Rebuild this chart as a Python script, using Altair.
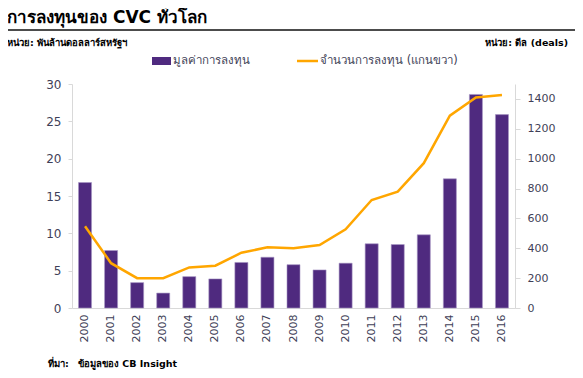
import altair as alt
import pandas as pd

years = ["2000", "2001", "2002", "2003", "2004", "2005", "2006", "2007", "2008",
         "2009", "2010", "2011", "2012", "2013", "2014", "2015", "2016"]
invest = [16.8, 7.7, 3.4, 2.0, 4.2, 3.9, 6.1, 6.8, 5.8, 5.1, 6.0, 8.6, 8.5, 9.8, 17.3, 28.6, 25.9]
deals = [548, 300, 200, 200, 272, 283, 370, 406, 400, 422, 527, 723, 779, 970, 1288, 1410, 1427]

title_text = "การลงทุนของ CVC ทั่วโลก"
unit_left = "หน่วย: พันล้านดอลลาร์สหรัฐฯ"
unit_right = "หน่วย: ดีล (deals)"
legend_bar = "มูลค่าการลงทุน"
legend_line = "จำนวนการลงทุน (แกนขวา)"
source_label = "ที่มา:"
source_text = "ข้อมูลของ CB Insight"

df = pd.DataFrame({"year": years, "invest": invest, "deals": deals})

FONT = "DejaVu Sans"
LBL = "#3f3f58"
AXC = "#d9d9d9"
PURPLE = "#4f2a7f"
ORANGE = "#ffa600"

x_enc = alt.X("year:N", sort=years,
              scale=alt.Scale(paddingInner=0.5, paddingOuter=0.25),
              axis=alt.Axis(title=None, labelAngle=-90, ticks=False, labelPadding=6,
                            domainColor=AXC, labelColor=LBL, labelFontSize=11,
                            labelFont=FONT))

bars = alt.Chart(df).mark_bar(color=PURPLE, stroke="#a897c4", strokeWidth=0.6).encode(
    x=x_enc,
    y=alt.Y("invest:Q", scale=alt.Scale(domain=[0, 30]),
            axis=alt.Axis(title=None, values=[0, 5, 10, 15, 20, 25, 30], grid=False,
                          domainColor=AXC, tickColor=AXC, tickSize=4, labelPadding=7,
                          labelColor=LBL, labelFontSize=12, labelFont=FONT))
)

line = alt.Chart(df).mark_line(color=ORANGE, strokeWidth=2.5).encode(
    x=alt.X("year:N", sort=years),
    y=alt.Y("deals:Q", scale=alt.Scale(domain=[0, 1500]),
            axis=alt.Axis(title=None, orient="right", format="d",
                          values=[0, 200, 400, 600, 800, 1000, 1200, 1400], grid=False,
                          domainColor=AXC, tickColor=AXC, tickSize=5, labelPadding=7,
                          labelColor=LBL, labelFontSize=11, labelFont=FONT))
)

main = alt.layer(bars, line).resolve_scale(y="independent")

one = pd.DataFrame({"a": [0]})


def txt(s, x, y, size, bold=False, align="left", color="#000000"):
    return alt.Chart(one).mark_text(text=s, align=align, baseline="alphabetic",
                                    fontSize=size, font=FONT,
                                    fontWeight="bold" if bold else "normal",
                                    color=color).encode(x=alt.value(x), y=alt.value(y))


title = txt(title_text, -65, -61, 17, bold=True)
rule = alt.Chart(one).mark_rule(color="#111111", strokeWidth=1.3).encode(
    x=alt.value(-65), x2=alt.value(503), y=alt.value(-54))
u_left = txt(unit_left, -65, -38, 9.5, bold=True)
u_right = txt(unit_right, 496, -38, 9.5, bold=True, align="right")
leg_rect = alt.Chart(one).mark_rect(color=PURPLE).encode(
    x=alt.value(80), x2=alt.value(99), y=alt.value(-27), y2=alt.value(-19))
leg_t1 = txt(legend_bar, 101, -20, 11.5, color=LBL)
leg_line = alt.Chart(one).mark_rule(color=ORANGE, strokeWidth=2.5).encode(
    x=alt.value(225), x2=alt.value(246), y=alt.value(-23))
leg_t2 = txt(legend_line, 248, -20, 11.5, color=LBL)
src1 = txt(source_label, -24, 283, 9.5, bold=True)
src2 = txt(source_text, 6, 283, 9.5, bold=True)

chart = alt.layer(
    main, title, rule, u_left, u_right, leg_rect, leg_t1, leg_line, leg_t2, src1, src2
).resolve_scale(y="independent").properties(
    width=443, height=224,
    autosize=alt.AutoSizeParams(type="none"),
    padding={"left": 64, "top": 76, "right": 60, "bottom": 62},
    background="white",
).configure_view(stroke=None)

chart.save("out.html", embed_options={"renderer": "svg", "actions": False})
